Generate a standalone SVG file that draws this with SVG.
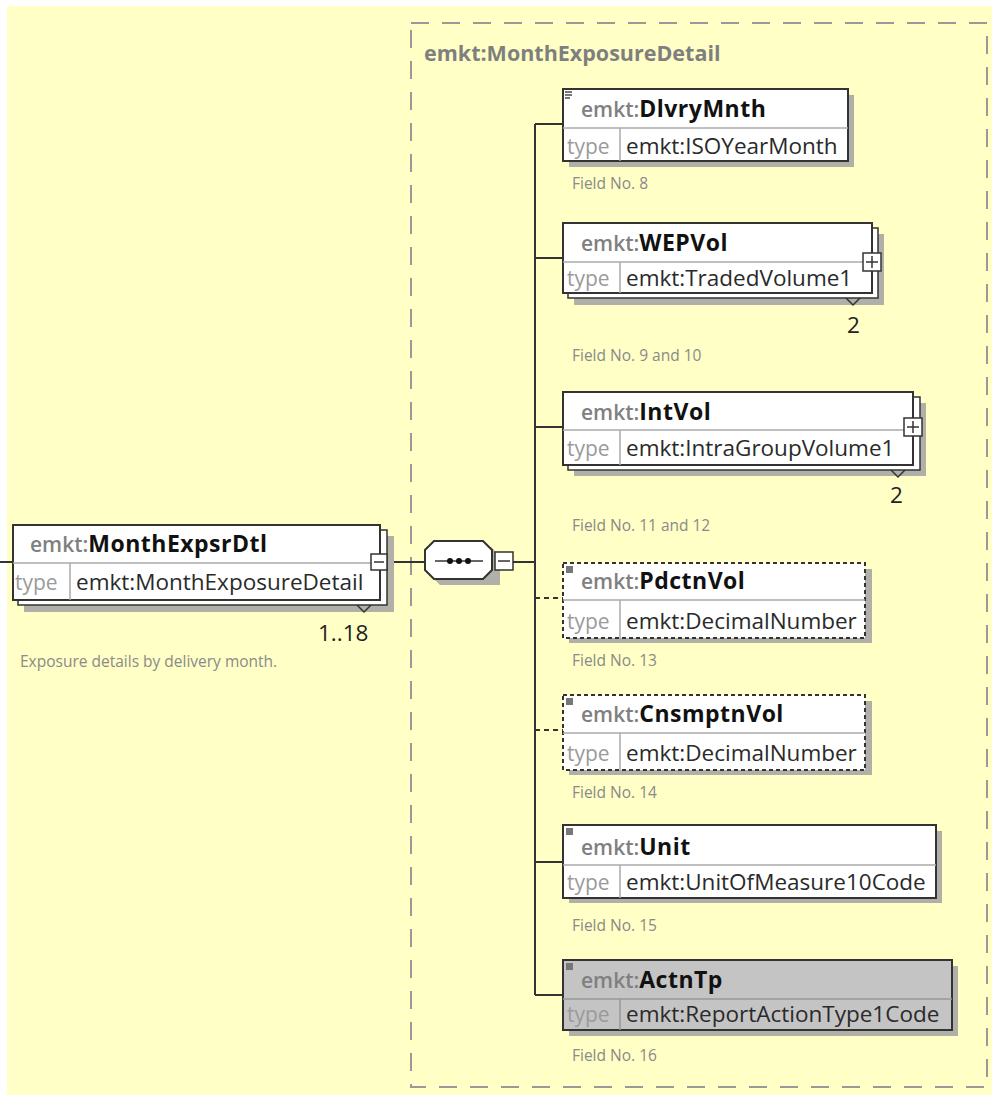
<svg xmlns="http://www.w3.org/2000/svg" width="992" height="1095" viewBox="0 0 992 1095">
<style>
text{font-family:"Open Sans","Noto Sans","DejaVu Sans",sans-serif;font-size:22px}
.bg{fill:#ffffc6}
.box{fill:#fff;stroke:#333;stroke-width:2}
.gbox{fill:#c4c4c4;stroke:#333;stroke-width:2}
.dbox{fill:#fff;stroke:#333;stroke-width:2;stroke-dasharray:4 3}
.back{fill:#fff;stroke:#333;stroke-width:1.5}
.shadow{fill:#b0b0a8}
.sep{stroke:#aaa;stroke-width:1.5}
.pre{fill:#808080;font-weight:600;font-size:21px}
.nm{font-weight:bold;fill:#111;font-size:23px;letter-spacing:0.5px}
.tp{fill:#9a9a9a;font-size:21px}
.tv{fill:#2a2a2a;font-size:22.5px}
.fld{font-size:15.5px;fill:#8a8a8a}
.conn{stroke:#333;stroke-width:2;fill:none}
.dconn{stroke:#333;stroke-width:2;fill:none;stroke-dasharray:5 4}
.btn{fill:#fff;stroke:#333;stroke-width:1.5}
.ico{fill:#777}
.outer{fill:none;stroke:#999;stroke-width:2;stroke-dasharray:18 13}
</style>
<rect x="0" y="0" width="992" height="1095" fill="#fff"/>
<rect class="bg" x="7" y="6" width="985" height="1089"/>

<g id="group-MonthExposureDetail">
<rect class="outer" x="411" y="23" width="576" height="1064"/>
<text x="424" y="61" style="font-size:21.5px;font-weight:bold;fill:#7f7f7f">emkt:MonthExposureDetail</text>
</g>

<g id="connectors">
<line class="conn" x1="0" y1="562" x2="13" y2="562"/>
<line class="conn" x1="387" y1="562" x2="425" y2="562"/>
<line class="conn" x1="513" y1="562" x2="535" y2="562"/>
<line class="conn" x1="535" y1="124" x2="535" y2="995"/>
<line class="conn" x1="535" y1="124" x2="563" y2="124"/>
<line class="conn" x1="535" y1="258" x2="563" y2="258"/>
<line class="conn" x1="535" y1="427" x2="563" y2="427"/>
<line class="dconn" x1="535" y1="598" x2="563" y2="598"/>
<line class="dconn" x1="535" y1="730" x2="563" y2="730"/>
<line class="conn" x1="535" y1="862" x2="563" y2="862"/>
<line class="conn" x1="535" y1="995" x2="563" y2="995"/>
</g>

<g id="MonthExpsrDtl">
<rect class="shadow" x="24" y="536" width="370" height="76"/>
<rect class="back" x="18" y="530" width="369" height="75"/>
<rect class="box" x="13" y="525" width="367" height="75"/>
<line class="sep" x1="13" y1="563" x2="380" y2="563"/>
<line class="sep" x1="70" y1="563" x2="70" y2="600"/>
<text x="30" y="552"><tspan class="pre">emkt:</tspan><tspan class="nm">MonthExpsrDtl</tspan></text>
<text x="15" y="590" class="tp">type</text>
<text x="76" y="590" class="tv">emkt:MonthExposureDetail</text>
<rect class="btn" x="371" y="554" width="16" height="16"/>
<line x1="374" y1="562" x2="384" y2="562" stroke="#333" stroke-width="1.5"/>
<polyline points="357,605 364,612 371,605" fill="none" stroke="#333" stroke-width="1.5"/>
<text x="318" y="641" style="fill:#222;font-size:22.5px">1..18</text>
<text x="20" y="667" class="fld">Exposure details by delivery month.</text>
</g>

<g id="sequence">
<polygon class="shadow" points="440,547 491,547 500,556 500,585 491,585 440,585 431,576 431,556"/>
<polygon fill="#fff" stroke="#333" stroke-width="2" points="434,541 483,541 492,550 492,570 483,579 434,579 425,570 425,550"/>
<line x1="435" y1="561" x2="483" y2="561" stroke="#333" stroke-width="1.5"/>
<circle cx="450" cy="561" r="3" fill="#111"/>
<circle cx="459" cy="561" r="3" fill="#111"/>
<circle cx="468" cy="561" r="3" fill="#111"/>
<rect class="btn" x="495" y="552" width="18" height="18"/>
<line x1="498" y1="561" x2="510" y2="561" stroke="#333" stroke-width="1.5"/>
</g>

<g id="DlvryMnth">
<rect class="shadow" x="569" y="95" width="285" height="72"/>
<rect class="box" x="563" y="89" width="285" height="72"/>
<line class="sep" x1="563" y1="128" x2="848" y2="128"/>
<line class="sep" x1="620" y1="128" x2="620" y2="161"/>
<rect class="ico" x="565" y="91" width="7" height="2"/><rect class="ico" x="565" y="94" width="7" height="2"/><rect class="ico" x="565" y="97" width="5" height="2"/>
<text x="581" y="117"><tspan class="pre">emkt:</tspan><tspan class="nm">DlvryMnth</tspan></text>
<text x="567" y="154" class="tp">type</text>
<text x="626" y="154" class="tv">emkt:ISOYearMonth</text>
<text x="572" y="189" class="fld">Field No. 8</text>
</g>

<g id="WEPVol">
<rect class="shadow" x="574" y="234" width="310" height="71"/>
<rect class="back" x="568" y="228" width="310" height="70"/>
<rect class="box" x="563" y="223" width="309" height="70"/>
<line class="sep" x1="563" y1="262" x2="872" y2="262"/>
<line class="sep" x1="620" y1="262" x2="620" y2="293"/>
<text x="581" y="251"><tspan class="pre">emkt:</tspan><tspan class="nm">WEPVol</tspan></text>
<text x="567" y="286" class="tp">type</text>
<text x="626" y="286" class="tv">emkt:TradedVolume1</text>
<rect class="btn" x="863" y="253" width="18" height="18"/>
<line x1="866" y1="262" x2="878" y2="262" stroke="#333" stroke-width="1.5"/><line x1="872" y1="256" x2="872" y2="268" stroke="#333" stroke-width="1.5"/>
<polyline points="846,298 853,305 860,298" fill="none" stroke="#333" stroke-width="1.5"/>
<text x="847" y="333" style="fill:#222;font-size:22.5px">2</text>
<text x="572" y="361" class="fld">Field No. 9 and 10</text>
</g>

<g id="IntVol">
<rect class="shadow" x="574" y="403" width="352" height="73"/>
<rect class="back" x="568" y="397" width="352" height="73"/>
<rect class="box" x="563" y="392" width="350" height="73"/>
<line class="sep" x1="563" y1="430" x2="913" y2="430"/>
<line class="sep" x1="620" y1="430" x2="620" y2="465"/>
<text x="581" y="420"><tspan class="pre">emkt:</tspan><tspan class="nm">IntVol</tspan></text>
<text x="567" y="456" class="tp">type</text>
<text x="626" y="456" class="tv">emkt:IntraGroupVolume1</text>
<rect class="btn" x="904" y="418" width="18" height="18"/>
<line x1="907" y1="427" x2="919" y2="427" stroke="#333" stroke-width="1.5"/><line x1="913" y1="421" x2="913" y2="433" stroke="#333" stroke-width="1.5"/>
<polyline points="891,470 898,477 905,470" fill="none" stroke="#333" stroke-width="1.5"/>
<text x="890" y="503" style="fill:#222;font-size:22.5px">2</text>
<text x="572" y="531" class="fld">Field No. 11 and 12</text>
</g>

<g id="PdctnVol">
<rect class="shadow" x="569" y="569" width="303" height="74"/>
<rect class="dbox" x="563" y="563" width="302" height="75"/>
<line class="sep" x1="563" y1="600" x2="865" y2="600"/>
<line class="sep" x1="620" y1="600" x2="620" y2="638"/>
<rect class="ico" x="566" y="566" width="7" height="7"/>
<text x="581" y="589"><tspan class="pre">emkt:</tspan><tspan class="nm">PdctnVol</tspan></text>
<text x="567" y="629" class="tp">type</text>
<text x="626" y="629" class="tv">emkt:DecimalNumber</text>
<text x="572" y="666" class="fld">Field No. 13</text>
</g>

<g id="CnsmptnVol">
<rect class="shadow" x="569" y="701" width="303" height="74"/>
<rect class="dbox" x="563" y="695" width="302" height="75"/>
<line class="sep" x1="563" y1="733" x2="865" y2="733"/>
<line class="sep" x1="620" y1="733" x2="620" y2="770"/>
<rect class="ico" x="566" y="698" width="7" height="7"/>
<text x="581" y="722"><tspan class="pre">emkt:</tspan><tspan class="nm">CnsmptnVol</tspan></text>
<text x="567" y="761" class="tp">type</text>
<text x="626" y="761" class="tv">emkt:DecimalNumber</text>
<text x="572" y="798" class="fld">Field No. 14</text>
</g>

<g id="Unit">
<rect class="shadow" x="569" y="831" width="373" height="72"/>
<rect class="box" x="563" y="825" width="373" height="73"/>
<line class="sep" x1="563" y1="865" x2="936" y2="865"/>
<line class="sep" x1="620" y1="865" x2="620" y2="898"/>
<rect class="ico" x="566" y="828" width="7" height="7"/>
<text x="581" y="855"><tspan class="pre">emkt:</tspan><tspan class="nm">Unit</tspan></text>
<text x="567" y="890" class="tp">type</text>
<text x="626" y="890" class="tv">emkt:UnitOfMeasure10Code</text>
<text x="572" y="931" class="fld">Field No. 15</text>
</g>

<g id="ActnTp">
<rect class="shadow" x="569" y="966" width="389" height="70"/>
<rect class="gbox" x="563" y="960" width="389" height="70"/>
<line x1="563" y1="999" x2="952" y2="999" stroke="#999" stroke-width="1.5"/>
<line x1="620" y1="999" x2="620" y2="1030" stroke="#999" stroke-width="1.5"/>
<rect class="ico" x="566" y="963" width="7" height="7"/>
<text x="581" y="988"><tspan class="pre">emkt:</tspan><tspan class="nm">ActnTp</tspan></text>
<text x="567" y="1022" class="tp">type</text>
<text x="626" y="1022" class="tv">emkt:ReportActionType1Code</text>
<text x="572" y="1061" class="fld">Field No. 16</text>
</g>
</svg>
